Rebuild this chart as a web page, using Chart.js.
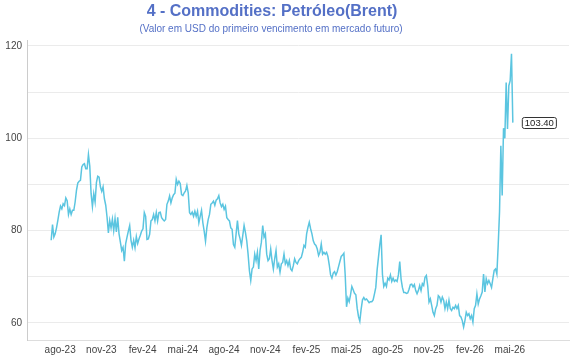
<!DOCTYPE html>
<html>
<head>
<meta charset="utf-8">
<script src="https://cdn.jsdelivr.net/npm/chart.js@4"></script>
<style>
  body { margin: 0; background: #fff; }
  #wrap { width: 570px; height: 360px; position: relative; }
</style>
</head>
<body>
<div id="wrap"><canvas id="chart"></canvas></div>
<script>
// Brent, first contract, USD (one value every ~3 days)
const startDate = '2023-07-12';
const stepDays = 2.97;
const prices = [
  77.9, 81.3, 78.6, 79.3, 80.6, 82.2, 84.0, 85.3, 84.7, 85.8,
  85.4, 87.1, 86.5, 83.5, 84.7, 83.5, 84.4, 84.4, 86.2, 88.7,
  90.3, 90.7, 90.9, 93.8, 94.3, 94.5, 93.4, 93.4, 96.5,
  94.0, 88.0, 85.2, 88.0, 86.2, 90.4, 91.8, 91.6, 89.5, 88.5, 89.5, 86.9,
  85.5, 82.9, 79.5, 82.2, 80.6, 82.5, 80.0, 82.6, 79.7, 82.9,
  79.3, 77.5, 75.7, 76.4, 73.4, 77.2, 78.6, 79.9, 81.1, 77.9,
  76.4, 77.9, 76.3, 78.7, 77.2, 78.2, 79.0,
  // 2024
  79.9, 80.4, 83.9, 83.1, 78.1, 78.2, 79.2, 82.1, 82.4, 83.5,
  82.1, 83.9, 82.1, 83.9, 84.0, 82.8, 82.4, 82.1, 82.4, 85.7,
  86.4, 87.5, 86.0, 87.1, 87.8, 88.1, 91.1, 90.0, 90.7, 90.2,
  87.8, 87.6, 88.2, 88.6, 89.8, 88.2, 83.9, 83.5, 84.0, 83.1,
  84.2, 83.1, 84.2, 81.7, 83.1, 84.4, 81.7, 79.9, 77.7, 80.6,
  82.4, 83.5, 85.7, 86.0, 86.4, 85.5, 86.6, 86.9, 87.6, 86.0,
  85.2, 85.7, 84.6, 85.3, 82.8, 82.4, 82.1, 80.6, 80.3, 77.0,
  76.4, 79.3, 82.2, 79.3, 78.2, 76.8, 78.9, 81.1, 79.6, 77.8,
  74.9, 71.3, 69.2, 71.7, 72.1, 74.9, 73.5, 75.3, 71.7, 75.7,
  77.5, 81.1, 78.6, 79.3, 74.9, 73.5, 73.9, 76.0, 73.5, 71.7,
  73.9, 75.7, 72.1, 72.8, 71.0, 72.8, 73.1, 74.9, 72.8, 73.5,
  72.4, 73.5, 71.7, 71.3, 72.4, 73.9, 73.1, 72.8, 73.5, 73.9,
  74.2, 75.3, 76.8, 76.4, 79.3, 80.7, 81.8, 80.4, 79.3, 77.8,
  77.1, 76.8, 76.0, 74.6, 75.3, 77.1, 74.9, 75.3, 74.9, 75.3,
  // 2025
  74.4, 72.6, 70.4, 69.7, 70.8, 71.1, 70.4, 71.1, 72.2, 73.3,
  74.4, 74.7, 75.1, 70.4, 63.5, 65.4, 64.6, 66.1, 67.9, 67.2,
  66.4, 66.1, 63.2, 61.4, 60.4, 63.0, 65.0, 65.5, 65.0, 65.2,
  64.8, 64.4, 64.6, 64.6, 65.0, 66.3, 67.7, 71.5, 74.2, 76.9,
  79.1, 70.5, 67.9, 68.6, 67.9, 69.7, 69.3, 70.4, 69.0, 69.7,
  69.0, 69.3, 69.0, 70.4, 73.3, 69.5, 67.7, 66.6, 66.6, 66.4,
  66.5, 67.3, 68.3, 68.4, 67.8, 68.3, 67.0, 66.3, 67.0,
  68.1, 67.0, 68.5, 68.1, 69.9, 70.3, 68.1, 64.5, 65.2, 63.8,
  62.3, 61.6, 63.1, 63.8, 65.9, 65.6, 64.5, 65.6, 64.9, 63.1,
  64.5, 63.1, 64.9, 63.1, 62.7, 63.4, 63.1, 63.8, 63.1, 63.8,
  61.6, 61.3, 60.5, 59.1, 60.5, 62.3, 61.6, 62.0, 60.9, 61.6,
  60.2, 63.1, 63.8, 66.3, 64.1, 65.2, 65.9, 66.7, 70.6, 66.7,
  69.6, 68.5, 69.2, 68.5, 67.7, 69.6, 71.4, 71.7,
  // 2026
  70.6, 76.8, 84.0, 98.4, 87.6, 102.2, 100.0, 112.1, 102.0, 111.4,
  112.5, 118.3, 103.4
];

const tickDates = ['2023-08-01', '2023-11-01', '2024-02-01', '2024-05-01', '2024-08-01', '2024-11-01',
                   '2025-02-01', '2025-05-01', '2025-08-01', '2025-11-01', '2026-02-01', '2026-05-01'];
const tickLabels = ['ago-23', 'nov-23', 'fev-24', 'mai-24', 'ago-24', 'nov-24',
                    'fev-25', 'mai-25', 'ago-25', 'nov-25', 'fev-26', 'mai-26'];
const yTicks = [60, 70, 80, 90, 100, 110, 120];

const titleText = '4 - Commodities: Petróleo(Brent)';
const subtitleText = '(Valor em USD do primeiro vencimento em mercado futuro)';

// days since epoch
function dayNum(s) {
  const p = s.split('-');
  return Date.UTC(+p[0], +p[1] - 1, +p[2]) / 86400000;
}

const start = dayNum(startDate);
const points = prices.map((v, i) => ({ x: start + i * stepDays, y: v }));

const FONT = "'Liberation Sans', Arial, Helvetica, sans-serif";

// title + subtitle, centred like in the picture
const titlePlugin = {
  id: 'titles',
  afterDraw(chart) {
    const ctx = chart.ctx;
    ctx.save();
    ctx.textAlign = 'center';
    ctx.textBaseline = 'middle';
    ctx.fillStyle = '#5470c6';
    ctx.font = 'bold 16px ' + FONT;
    ctx.fillText(titleText, 272, 12);
    ctx.font = '10px ' + FONT;
    ctx.fillText(subtitleText, 271, 29);
    ctx.restore();
  }
};

// label with the last value
const lastLabel = {
  id: 'lastLabel',
  afterDatasetsDraw(chart) {
    const meta = chart.getDatasetMeta(0);
    const pt = meta.data[meta.data.length - 1];
    const txt = prices[prices.length - 1].toFixed(2);
    const ctx = chart.ctx;
    ctx.save();
    ctx.font = '9.5px ' + FONT;
    const w = ctx.measureText(txt).width + 5;
    const h = 11;
    const x = pt.x + 9.5;
    const y = Math.round(pt.y - h / 2) + 0.5;
    ctx.fillStyle = '#fff';
    ctx.strokeStyle = '#333';
    ctx.lineWidth = 1;
    ctx.beginPath();
    ctx.roundRect(x, y, w, h, 2);
    ctx.fill();
    ctx.stroke();
    ctx.fillStyle = '#222';
    ctx.textAlign = 'left';
    ctx.textBaseline = 'middle';
    ctx.fillText(txt, x + 2.5, y + h / 2 + 0.5);
    ctx.restore();
  }
};

new Chart(document.getElementById('chart'), {
  type: 'line',
  data: {
    datasets: [{
      data: points,
      borderColor: '#5bc5e0',
      borderWidth: 1.5,
      pointRadius: 0,
      tension: 0,
      fill: false
    }]
  },
  options: {
    responsive: true,
    maintainAspectRatio: false,
    animation: false,
    events: [],
    layout: { padding: { top: 40, right: 1, left: 0, bottom: 0 } },
    plugins: {
      legend: { display: false },
      title: { display: false },
      tooltip: { enabled: false }
    },
    scales: {
      x: {
        type: 'linear',
        min: dayNum('2023-05-19'),
        max: dayNum('2026-09-10'),
        afterBuildTicks(scale) {
          scale.ticks = tickDates.map(d => ({ value: dayNum(d) }));
        },
        afterFit(scale) { scale.height = 20; },
        grid: { display: false, drawTicks: false },
        border: { display: true, color: '#dddddd' },
        ticks: {
          autoSkip: false,
          maxRotation: 0,
          padding: 4,
          color: '#444',
          font: { family: FONT, size: 10 },
          callback: (v, i) => tickLabels[i]
        }
      },
      y: {
        min: 56.3,
        max: 121.3,
        afterBuildTicks(scale) {
          scale.ticks = yTicks.map(v => ({ value: v }));
        },
        afterFit(scale) { scale.width = 27; },
        grid: { color: '#ebebeb', drawTicks: false },
        border: { display: true, color: '#cccccc' },
        ticks: {
          padding: 5,
          color: '#444',
          font: { family: FONT, size: 10 },
          callback: v => (v % 20 === 0 ? v : '')
        }
      }
    }
  },
  plugins: [titlePlugin, lastLabel]
});
</script>
</body>
</html>
